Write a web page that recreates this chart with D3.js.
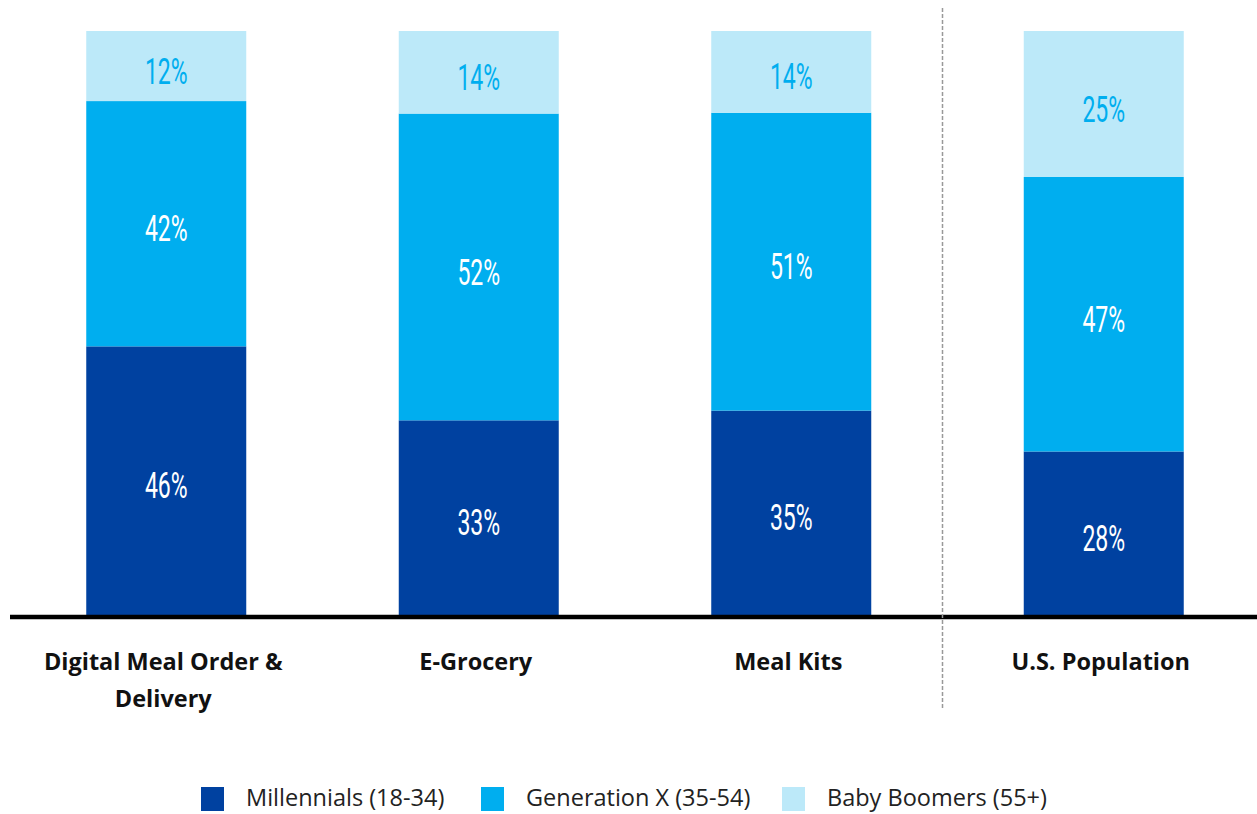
<!DOCTYPE html>
<html>
<head>
<meta charset="utf-8">
<script src="https://cdn.jsdelivr.net/npm/d3@7"></script>
<style>
  html, body { margin: 0; padding: 0; background: #fff; }
  svg { display: block; }
</style>
</head>
<body>
<svg id="chart" width="1257" height="814"></svg>
<script>
// Audience composition by generation
const categories = ["Digital Meal Order & Delivery", "E-Grocery", "Meal Kits", "U.S. Population"];
const categoryLines = [["Digital Meal Order &", "Delivery"], ["E-Grocery"], ["Meal Kits"], ["U.S. Population"]];
const seriesNames = ["Millennials (18-34)", "Generation X (35-54)", "Baby Boomers (55+)"];
const millennials = [46, 33, 35, 28];
const generationX = [42, 52, 51, 47];
const babyBoomers = [12, 14, 14, 25];
const colors = ["#0041a0", "#00aeef", "#bce9f9"];
const labelColors = ["#ffffff", "#ffffff", "#00aeef"];

const rows = categories.map((c, i) => ({
  category: c,
  [seriesNames[0]]: millennials[i],
  [seriesNames[1]]: generationX[i],
  [seriesNames[2]]: babyBoomers[i]
}));

const svg = d3.select("#chart");
const baseY = 615, topY = 31;

const x = d3.scaleBand()
  .domain(categories)
  .range([10, 1260])
  .paddingInner(0.488)
  .paddingOuter(0.244);

const y = d3.scaleLinear().domain([0, 1]).range([baseY, topY]);

const stack = d3.stack().keys(seriesNames).offset(d3.stackOffsetExpand);
const layers = stack(rows);

const g = svg.append("g");

layers.forEach((layer, si) => {
  const lg = g.append("g");
  lg.selectAll("rect")
    .data(layer)
    .join("rect")
    .attr("x", d => x(d.data.category))
    .attr("width", x.bandwidth())
    .attr("y", d => y(d[1]))
    .attr("height", d => y(d[0]) - y(d[1]))
    .attr("fill", colors[si]);

  lg.selectAll("text")
    .data(layer)
    .join("text")
    .attr("transform", d => {
      const cx = x(d.data.category) + x.bandwidth() / 2;
      const cy = (y(d[0]) + y(d[1])) / 2 + 5;
      return `translate(${cx},${cy}) scale(0.64,1.02)`;
    })
    .attr("text-anchor", "middle")
    .attr("dominant-baseline", "central")
    .attr("font-family", "Roboto, 'Liberation Sans', sans-serif")
    .attr("font-weight", 400)
    .attr("font-size", 36)
    .attr("fill", labelColors[si])
    .text(d => d.data[seriesNames[si]] + "%");
});

// Baseline
svg.append("line")
  .attr("x1", 10).attr("x2", 1257)
  .attr("y1", baseY + 2).attr("y2", baseY + 2)
  .attr("stroke", "#000")
  .attr("stroke-width", 4.5);

// Divider between product categories and the population benchmark
svg.append("line")
  .attr("x1", 942.5).attr("x2", 942.5)
  .attr("y1", 8).attr("y2", 708)
  .attr("stroke", "#999")
  .attr("stroke-width", 1.5)
  .attr("stroke-dasharray", "4,2");

// Category labels
const labels = svg.append("g")
  .attr("font-family", "'Open Sans', sans-serif")
  .attr("font-weight", 700)
  .attr("font-size", 23.5)
  .attr("fill", "#111")
  .attr("text-anchor", "middle");

categories.forEach((c, i) => {
  const cx = x(c) + x.bandwidth() / 2 - 3;
  const t = labels.append("text")
    .attr("x", cx)
    .attr("y", 670);
  categoryLines[i].forEach((line, li) => {
    t.append("tspan")
      .attr("x", cx)
      .attr("dy", li === 0 ? 0 : 37)
      .text(line);
  });
});

// Legend
const legendX = [201, 481, 782];
const legend = svg.append("g")
  .attr("font-family", "'Open Sans', sans-serif")
  .attr("font-size", 23.5)
  .attr("fill", "#222");

seriesNames.forEach((name, i) => {
  legend.append("rect")
    .attr("x", legendX[i])
    .attr("y", 787)
    .attr("width", 23)
    .attr("height", 24)
    .attr("fill", colors[i]);
  legend.append("text")
    .attr("x", legendX[i] + 45)
    .attr("y", 806)
    .text(name);
});
</script>
</body>
</html>
